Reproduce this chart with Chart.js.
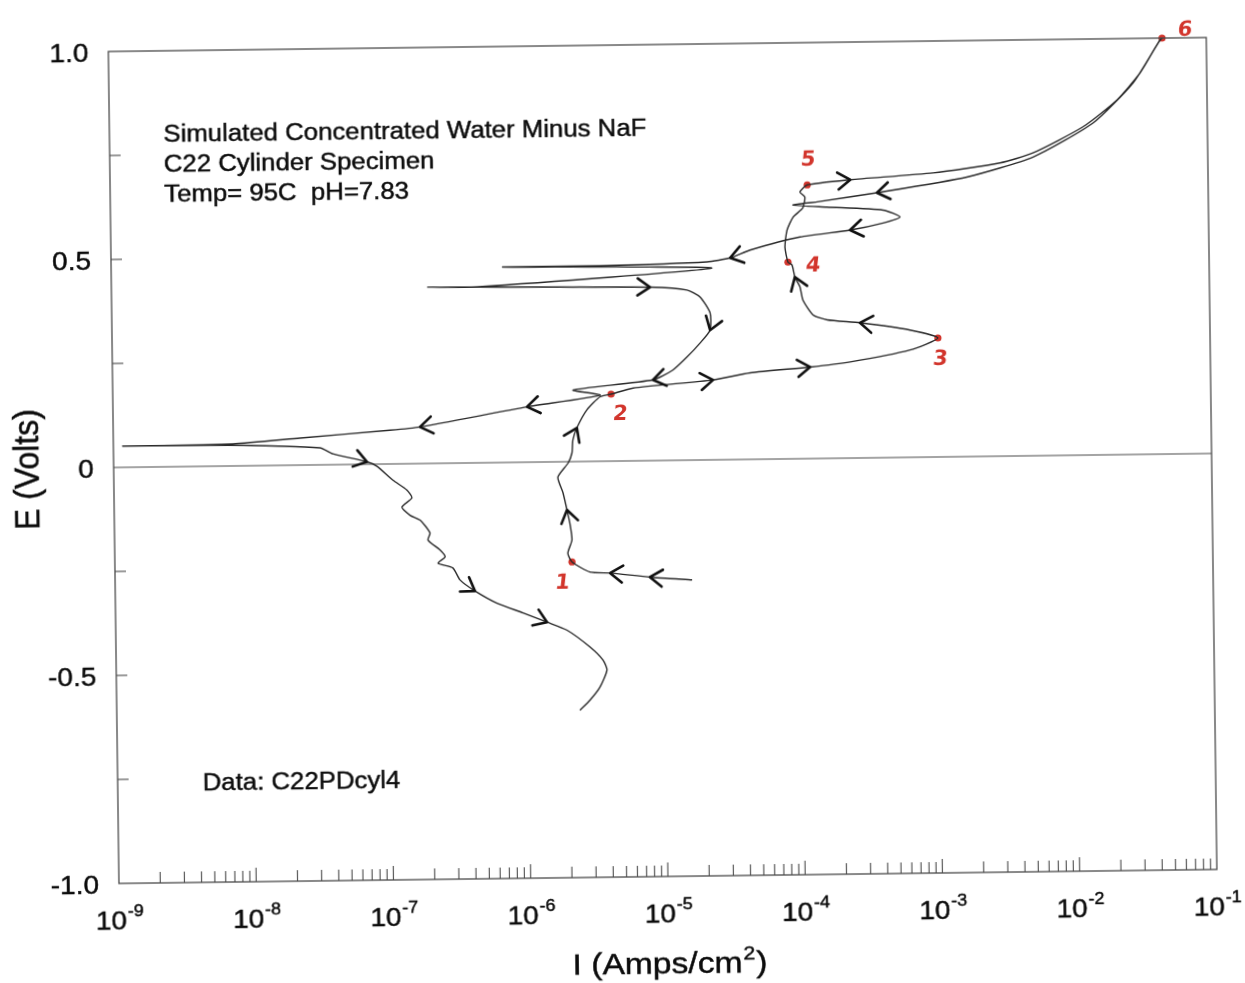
<!DOCTYPE html>
<html><head><meta charset="utf-8">
<script src="https://cdn.jsdelivr.net/npm/chart.js@4.4.1/dist/chart.umd.min.js"></script>
<style>
html,body{margin:0;padding:0;background:#fff;overflow:hidden;}
#wrap{width:1245px;height:983px;transform:rotate(-0.73deg);transform-origin:50% 50%;}
canvas{display:block;}
</style></head><body>
<div id="wrap"><canvas id="c" width="1245" height="983"></canvas></div>
<script>
// Current density (A/cm^2) along the scan, in scan order
const currentA = [
1.60e-5, 7.89e-6, 4.05e-6, 2.89e-6, 2.14e-6,
2.00e-6, 2.15e-6, 2.08e-6, 1.99e-6, 1.87e-6,
1.72e-6, 2.05e-6, 2.19e-6, 2.23e-6, 2.39e-6,
2.84e-6, 3.55e-6, 4.27e-6, 6.18e-6, 2.37e-5,
4.42e-5, 1.21e-4, 2.37e-4, 6.50e-4, 1.04e-3,
6.52e-4, 2.82e-4, 1.63e-4, 1.29e-4, 1.09e-4,
1.04e-4, 9.57e-5, 9.14e-5, 8.55e-5, 8.15e-5,
8.47e-5, 9.40e-5, 1.11e-4, 1.15e-4, 1.06e-4,
1.20e-4, 2.47e-4, 9.93e-4, 3.06e-3, 5.33e-3,
1.24e-2, 2.21e-2, 3.27e-2, 4.60e-2, 4.76e-2,
4.45e-2, 2.90e-2, 1.47e-2, 5.33e-3, 1.75e-3,
3.86e-4, 1.41e-4, 9.40e-5, 1.66e-4, 4.26e-4,
5.65e-4, 4.25e-4, 2.44e-4, 1.05e-4, 4.53e-5,
3.24e-5, 2.20e-5, 3.65e-6, 7.16e-7, 2.38e-5,
4.69e-7, 2.03e-7, 1.85e-6, 8.39e-6, 1.56e-5,
1.94e-5, 2.29e-5, 2.28e-5, 1.92e-5, 1.54e-5,
1.21e-5, 8.65e-6, 2.26e-6, 3.55e-6, 1.04e-6,
1.72e-7, 1.04e-7, 2.29e-8, 7.43e-9, 1.17e-9,
6.73e-9, 3.20e-8, 3.97e-8, 7.01e-8, 8.28e-8,
1.08e-7, 1.36e-7, 1.48e-7, 1.25e-7, 1.43e-7,
1.69e-7, 1.99e-7, 1.92e-7, 2.34e-7, 2.55e-7,
2.26e-7, 2.90e-7, 3.26e-7, 4.18e-7, 6.03e-7,
9.31e-7, 1.39e-6, 1.94e-6, 2.84e-6, 3.53e-6,
3.76e-6, 3.33e-6, 2.81e-6, 2.37e-6
];
// Potential (V) along the scan, same order
const potentialV = [
-0.288,-0.280,-0.269,-0.266,-0.241,
-0.220,-0.188,-0.147,-0.116,-0.075,
-0.037,-0.003,0.021,0.052,0.081,
0.124,0.155,0.161,0.175,0.192,
0.208,0.220,0.231,0.258,0.286,
0.306,0.325,0.333,0.345,0.381,
0.413,0.437,0.466,0.473,0.509,
0.550,0.581,0.603,0.629,0.641,
0.658,0.669,0.683,0.705,0.728,
0.789,0.853,0.917,0.996,1.000,
0.988,0.893,0.798,0.718,0.672,
0.637,0.617,0.610,0.604,0.595,
0.578,0.564,0.548,0.533,0.503,
0.485,0.476,0.470,0.470,0.461,
0.423,0.424,0.420,0.417,0.409,
0.392,0.353,0.312,0.281,0.248,
0.217,0.194,0.172,0.159,0.133,
0.088,0.081,0.065,0.053,0.051,
0.050,0.041,0.026,0.006,-0.005,
-0.039,-0.063,-0.082,-0.104,-0.124,
-0.136,-0.167,-0.184,-0.208,-0.225,
-0.240,-0.252,-0.281,-0.308,-0.338,
-0.362,-0.385,-0.405,-0.446,-0.478,
-0.502,-0.543,-0.574,-0.598
];
// Points of the scan carrying hand-drawn direction arrows
const arrowIdx = [1,2,8,14,19,21,26,31,41,55,62,65,73,77,81,84,85,93,108,111];
// Numbered hand-marked points
const markerIdx = [4,17,24,33,40,49];
const markerLabels = ['1','2','3','4','5','6'];
// Axis ticks
const xTickValues = [1e-9,1e-8,1e-7,1e-6,1e-5,1e-4,1e-3,1e-2,1e-1];
const xTickExponents = ['-9','-8','-7','-6','-5','-4','-3','-2','-1'];
const yTickValues = [1,0.5,0,-0.5,-1];
const yTickLabels = ['1.0','0.5','0','-0.5','-1.0'];
const yMarkValues = [0.75,0.5,0.25,-0.25,-0.5,-0.75];
// Texts
const annotationLines = ['Simulated Concentrated Water Minus NaF','C22 Cylinder Specimen','Temp= 95C  pH=7.83'];
const dataNote = 'Data: C22PDcyl4';
const xTitle = ['I (Amps/cm','2',')'];
const yTitle = 'E (Volts)';

const FONT = '"Liberation Sans", Arial, Helvetica, sans-serif';
const SX = 1.12;        // horizontal stretch of the scanned lettering
const INK = '#0c0c0c';
const AXIS = '#4a4a4a';
const RED = '#d2352c';

function stretchedText(ctx, text, x, y, size, align, sx){
  ctx.save();
  ctx.translate(x, y);
  ctx.scale(sx, 1);
  ctx.font = size + 'px ' + FONT;
  ctx.textAlign = align;
  ctx.fillText(text, 0, 0);
  ctx.lineWidth = 0.45;
  ctx.strokeStyle = INK;
  ctx.strokeText(text, 0, 0);
  ctx.restore();
}

const decor = {
  id: 'decor',
  beforeDraw(chart){
    const ctx = chart.ctx;
    ctx.save(); ctx.fillStyle = '#fff'; ctx.fillRect(0,0,chart.width,chart.height); ctx.restore();
  },
  beforeDatasetsDraw(chart){
    const {ctx, chartArea:a, scales:{y}} = chart;
    const y0 = y.getPixelForValue(0);
    ctx.save();
    ctx.strokeStyle = AXIS; ctx.lineWidth = 1.1;
    ctx.beginPath(); ctx.moveTo(a.left, y0); ctx.lineTo(a.right, y0); ctx.stroke();
    ctx.restore();
  },
  afterDatasetsDraw(chart){
    const {ctx, chartArea:a, scales:{x,y}} = chart;
    ctx.save();
    // frame
    ctx.strokeStyle = AXIS; ctx.lineWidth = 1.3;
    ctx.strokeRect(a.left, a.top, a.right-a.left, a.bottom-a.top);
    // inward y tick marks
    ctx.lineWidth = 1.1;
    yMarkValues.forEach(v => {
      const py = y.getPixelForValue(v);
      ctx.beginPath(); ctx.moveTo(a.left, py); ctx.lineTo(a.left+11, py); ctx.stroke();
    });
    // inward x tick marks (log minor + decades)
    for (let e = -9; e <= -2; e++){
      for (let m = 1; m <= 9; m++){
        if (e === -9 && m === 1) continue;
        const px = x.getPixelForValue(m * Math.pow(10, e));
        const len = (m === 1) ? 14 : 11;
        ctx.beginPath(); ctx.moveTo(px, a.bottom); ctx.lineTo(px, a.bottom-len); ctx.stroke();
      }
    }
    // direction arrows (chevrons) along the curve
    const pts = chart.getDatasetMeta(0).data;
    ctx.strokeStyle = '#111'; ctx.lineWidth = 2.6; ctx.lineCap = 'round'; ctx.lineJoin = 'round';
    arrowIdx.forEach(i => {
      const p = pts[i], pa = pts[Math.max(0,i-1)], pb = pts[Math.min(pts.length-1,i+1)];
      let dx = pb.x - pa.x, dy = pb.y - pa.y;
      const L = Math.hypot(dx,dy) || 1; dx /= L; dy /= L;
      const arm = 15, ang = 0.6;
      const c = Math.cos(ang), s = Math.sin(ang);
      const b1x = -(dx*c - dy*s), b1y = -(dx*s + dy*c);
      const b2x = -(dx*c + dy*s), b2y = -(-dx*s + dy*c);
      ctx.beginPath();
      ctx.moveTo(p.x + b1x*arm, p.y + b1y*arm);
      ctx.lineTo(p.x, p.y);
      ctx.lineTo(p.x + b2x*arm, p.y + b2y*arm);
      ctx.stroke();
    });
    ctx.restore();
  },
  afterDraw(chart){
    const {ctx, chartArea:a, scales:{x,y}} = chart;
    ctx.save();
    ctx.fillStyle = INK;
    ctx.textBaseline = 'alphabetic';
    // x tick labels 10^n
    xTickValues.forEach((v, i) => {
      const px = x.getPixelForValue(v);
      ctx.font = '25px ' + FONT;
      const w10 = ctx.measureText('10').width * SX;
      ctx.font = '16px ' + FONT;
      const ws = ctx.measureText(xTickExponents[i]).width * SX;
      const start = px - (w10 + ws) / 2;
      stretchedText(ctx, '10', start, a.bottom + 46, 25, 'left', SX);
      stretchedText(ctx, xTickExponents[i], start + w10 + 1, a.bottom + 33, 16, 'left', SX);
    });
    // y tick labels
    ctx.textBaseline = 'middle';
    yTickValues.forEach((v, i) => {
      const py = y.getPixelForValue(v);
      stretchedText(ctx, yTickLabels[i], a.left - 20, py + 3, 25, 'right', SX);
    });
    ctx.textBaseline = 'alphabetic';
    // x title with superscript
    ctx.font = '30px ' + FONT;
    const w1 = ctx.measureText(xTitle[0]).width * SX;
    const w3 = ctx.measureText(xTitle[2]).width * SX;
    ctx.font = '19px ' + FONT;
    const w2 = ctx.measureText(xTitle[1]).width * SX;
    const cx = (a.left + a.right) / 2;
    let sx0 = cx - (w1 + w2 + w3) / 2;
    stretchedText(ctx, xTitle[0], sx0, 974, 30, 'left', SX);
    stretchedText(ctx, xTitle[1], sx0 + w1 + 1, 961, 19, 'left', SX);
    stretchedText(ctx, xTitle[2], sx0 + w1 + w2 + 2, 974, 30, 'left', SX);
    // y title (rotated)
    ctx.save();
    ctx.translate(29, (a.top + a.bottom) / 2 + 1);
    ctx.rotate(-Math.PI / 2);
    ctx.scale(1, 1.1);
    ctx.font = '32px ' + FONT;
    ctx.textAlign = 'center'; ctx.textBaseline = 'middle';
    ctx.fillText(yTitle, 0, 0);
    ctx.lineWidth = 0.45; ctx.strokeStyle = INK; ctx.strokeText(yTitle, 0, 0);
    ctx.restore();
    // annotation block
    annotationLines.forEach((t, i) => {
      stretchedText(ctx, t, a.left + 54, a.top + 91 + i * 30, 23, 'left', SX);
    });
    stretchedText(ctx, dataNote, a.left + 85, a.top + 740, 23, 'left', SX);
    // red hand-marked numbers near the marked points
    const offs = [[-10,21],[9,21],[2,22],[25,4],[1,-25],[23,-7]];
    const mpts = chart.getDatasetMeta(1).data;
    ctx.fillStyle = RED;
    ctx.textBaseline = 'middle';
    mpts.forEach((p, i) => {
      ctx.save();
      ctx.translate(p.x + offs[i][0], p.y + offs[i][1]);
      ctx.transform(1, 0, -0.12, 1, 0, 0);
      ctx.font = 'bold 21px "DejaVu Sans", sans-serif';
      ctx.textAlign = 'center';
      ctx.fillText(markerLabels[i], 0, 0);
      ctx.restore();
    });
    ctx.restore();
  }
};

const curve = currentA.map((v, i) => ({x: v, y: potentialV[i]}));
const marks = markerIdx.map(i => ({x: currentA[i], y: potentialV[i]}));

new Chart(document.getElementById('c'), {
  type: 'scatter',
  data: { datasets: [
    { label: 'Scan', data: curve, showLine: true, borderColor: '#2a2a2a', borderWidth: 1.4,
      pointRadius: 0, pointHoverRadius: 0, tension: 0.2, fill: false },
    { label: 'Marked points', data: marks, showLine: false, pointRadius: 3.6,
      pointBackgroundColor: RED, pointBorderColor: RED, pointBorderWidth: 0, clip: false }
  ]},
  options: {
    responsive: false, animation: false, devicePixelRatio: 1,
    layout: { padding: { top: 45, right: 33, left: 0, bottom: 0 } },
    plugins: { legend: { display: false }, tooltip: { enabled: false } },
    scales: {
      x: { type: 'logarithmic', min: 1e-9, max: 1e-1,
           ticks: { display: false }, grid: { display: false }, border: { display: false },
           afterFit(s){ s.height = 106; } },
      y: { type: 'linear', min: -1, max: 1,
           ticks: { display: false }, grid: { display: false }, border: { display: false },
           afterFit(s){ s.width = 114; } }
    }
  },
  plugins: [decor]
});
</script>
</body></html>
